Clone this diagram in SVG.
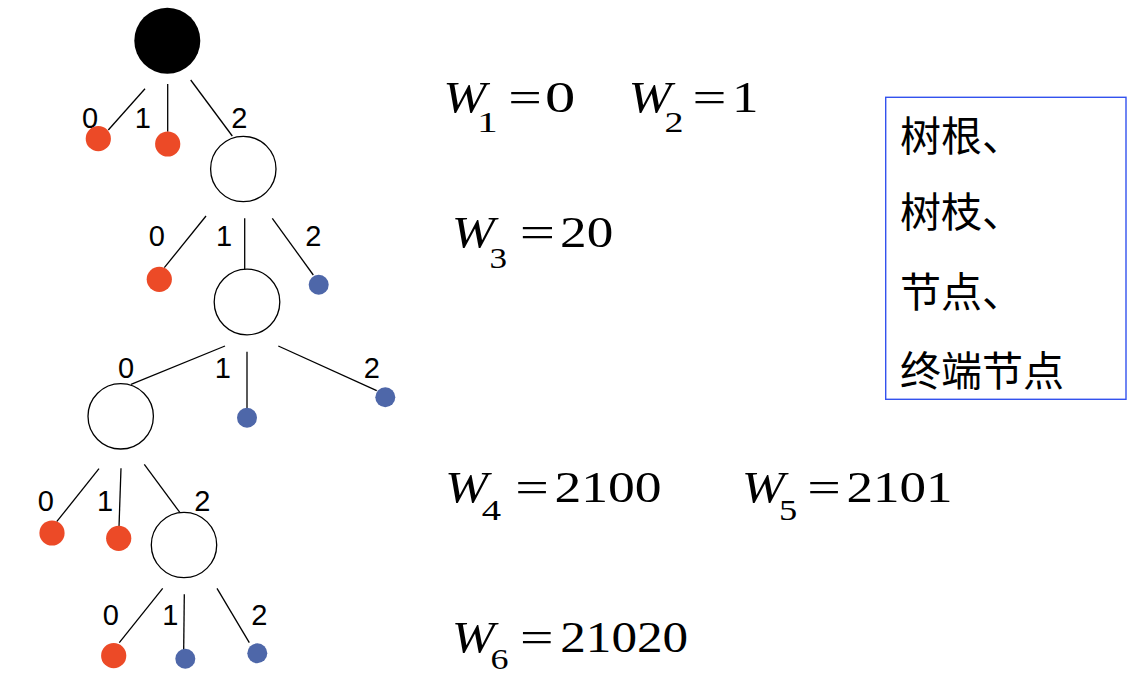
<svg xmlns="http://www.w3.org/2000/svg" width="1142" height="679" viewBox="0 0 1142 679">
<style>
.edge{stroke:#000;stroke-width:1.3;fill:none}
.open{fill:#fff;stroke:#000;stroke-width:1.3}
.red{fill:#ec4a27}
.blue{fill:#4e67a9}
.lbl{font-family:"Liberation Sans",Arial,sans-serif;font-size:29px;fill:#000;text-anchor:middle}
.m{font-family:"Liberation Serif","Times New Roman",serif;font-size:45px;fill:#000}
.mi{font-family:"Liberation Serif","Times New Roman",serif;font-size:45px;font-style:italic;fill:#000}
.s{font-family:"Liberation Serif","Times New Roman",serif;font-size:29px;fill:#000}
.cjk{font-family:"Noto Sans CJK SC",sans-serif;font-size:41px;fill:#000}
</style>
<rect width="1142" height="679" fill="#fff"/>
<g id="connectors">
<line class="edge" x1="145" y1="88.7" x2="108.3" y2="130"/>
<line class="edge" x1="167.7" y1="84" x2="167.7" y2="131.7"/>
<line class="edge" x1="190.7" y1="80" x2="232.3" y2="136"/>
<line class="edge" x1="206" y1="216" x2="164.3" y2="267.7"/>
<line class="edge" x1="244.7" y1="218.3" x2="244.7" y2="269.3"/>
<line class="edge" x1="272.3" y1="218.3" x2="313.3" y2="275"/>
<line class="edge" x1="225" y1="346" x2="131" y2="384.3"/>
<line class="edge" x1="247" y1="351.7" x2="247" y2="408.3"/>
<line class="edge" x1="278.3" y1="346" x2="376.7" y2="390.7"/>
<line class="edge" x1="99" y1="468.7" x2="56.7" y2="521.7"/>
<line class="edge" x1="121" y1="468.3" x2="119" y2="526.7"/>
<line class="edge" x1="144.3" y1="464.3" x2="180" y2="512.7"/>
<line class="edge" x1="162.7" y1="588.3" x2="119.3" y2="642.7"/>
<line class="edge" x1="184.3" y1="594.3" x2="183.7" y2="650"/>
<line class="edge" x1="217" y1="588.3" x2="249.3" y2="642.7"/>
</g>
<g id="edge-labels">
<text class="lbl" x="90" y="127.7">0</text>
<text class="lbl" x="142.7" y="127.7">1</text>
<text class="lbl" x="239.3" y="128">2</text>
<text class="lbl" x="156.7" y="246">0</text>
<text class="lbl" x="224" y="246">1</text>
<text class="lbl" x="313.3" y="246">2</text>
<text class="lbl" x="126" y="378.3">0</text>
<text class="lbl" x="222.7" y="378.3">1</text>
<text class="lbl" x="371.7" y="378.3">2</text>
<text class="lbl" x="45.7" y="510.7">0</text>
<text class="lbl" x="105" y="510.7">1</text>
<text class="lbl" x="202.3" y="510.7">2</text>
<text class="lbl" x="110.7" y="625">0</text>
<text class="lbl" x="170.3" y="625">1</text>
<text class="lbl" x="259.3" y="625">2</text>
</g>
<g id="root"><circle cx="167.3" cy="40.7" r="33" fill="#000"/></g>
<g id="leaf-0"><circle class="red" cx="98.3" cy="138.7" r="12.6"/></g>
<g id="leaf-1"><circle class="red" cx="167.7" cy="144" r="12.6"/></g>
<g id="node-2"><circle class="open" cx="243.3" cy="169" r="32.7"/></g>
<g id="leaf-20"><circle class="red" cx="159.3" cy="279.3" r="12.6"/></g>
<g id="leaf-22"><circle class="blue" cx="318.7" cy="284.7" r="10"/></g>
<g id="node-21"><circle class="open" cx="247" cy="302" r="32.8"/></g>
<g id="leaf-211"><circle class="blue" cx="247" cy="417.7" r="10"/></g>
<g id="leaf-212"><circle class="blue" cx="385.3" cy="397.3" r="10"/></g>
<g id="node-210"><circle class="open" cx="120.7" cy="416.3" r="32.7"/></g>
<g id="leaf-2100"><circle class="red" cx="52" cy="533" r="12.6"/></g>
<g id="leaf-2101"><circle class="red" cx="118.7" cy="538.3" r="12.6"/></g>
<g id="node-2102"><circle class="open" cx="184" cy="545" r="32.7"/></g>
<g id="leaf-21020"><circle class="red" cx="113.7" cy="655.7" r="12.6"/></g>
<g id="leaf-21021"><circle class="blue" cx="185.3" cy="658.7" r="10"/></g>
<g id="leaf-21022"><circle class="blue" cx="257.3" cy="653.3" r="10"/></g>
<g id="formulas">
<text class="mi" x="443.3" y="111.5" textLength="43" lengthAdjust="spacingAndGlyphs">W</text>
<text class="s" x="477" y="131.7" textLength="20.7" lengthAdjust="spacingAndGlyphs">1</text>
<text class="m" x="508.2" y="111.5" textLength="33.6" lengthAdjust="spacingAndGlyphs">=</text>
<text class="m" x="544.9" y="111.5" textLength="30.3" lengthAdjust="spacingAndGlyphs">0</text>
<text class="mi" x="628.5" y="111.5" textLength="43" lengthAdjust="spacingAndGlyphs">W</text>
<text class="s" x="664.5" y="131.7" textLength="19" lengthAdjust="spacingAndGlyphs">2</text>
<text class="m" x="692.5" y="111.5" textLength="34" lengthAdjust="spacingAndGlyphs">=</text>
<text class="m" x="732.1" y="111.5" textLength="26.5" lengthAdjust="spacingAndGlyphs">1</text>
<text class="mi" x="451.8" y="247" textLength="43" lengthAdjust="spacingAndGlyphs">W</text>
<text class="s" x="489.5" y="268.3" textLength="17.5" lengthAdjust="spacingAndGlyphs">3</text>
<text class="m" x="519.8" y="247" textLength="35.3" lengthAdjust="spacingAndGlyphs">=</text>
<text class="m" x="560.1" y="247" textLength="53.2" lengthAdjust="spacingAndGlyphs">20</text>
<text class="mi" x="445.1" y="502" textLength="43" lengthAdjust="spacingAndGlyphs">W</text>
<text class="s" x="481.8" y="520" textLength="19.3" lengthAdjust="spacingAndGlyphs">4</text>
<text class="m" x="515.2" y="502" textLength="33.6" lengthAdjust="spacingAndGlyphs">=</text>
<text class="m" x="554.4" y="502" textLength="107.2" lengthAdjust="spacingAndGlyphs">2100</text>
<text class="mi" x="741.8" y="502" textLength="43" lengthAdjust="spacingAndGlyphs">W</text>
<text class="s" x="779" y="520" textLength="18.2" lengthAdjust="spacingAndGlyphs">5</text>
<text class="m" x="807.2" y="502" textLength="33.6" lengthAdjust="spacingAndGlyphs">=</text>
<text class="m" x="846.4" y="502" textLength="106.2" lengthAdjust="spacingAndGlyphs">2101</text>
<text class="mi" x="451.8" y="652" textLength="43" lengthAdjust="spacingAndGlyphs">W</text>
<text class="s" x="490.5" y="669" textLength="18" lengthAdjust="spacingAndGlyphs">6</text>
<text class="m" x="519.9" y="652" textLength="33.6" lengthAdjust="spacingAndGlyphs">=</text>
<text class="m" x="560.2" y="652" textLength="128" lengthAdjust="spacingAndGlyphs">21020</text>
</g>
<g id="terms-box">
<rect x="885.7" y="97.3" width="240.3" height="302" fill="none" stroke="#3352ee" stroke-width="1.4"/>
<text class="cjk" x="900" y="150.5">树根、</text>
<text class="cjk" x="900" y="227">树枝、</text>
<text class="cjk" x="900" y="307">节点、</text>
<text class="cjk" x="900" y="385.5">终端节点</text>
</g>
</svg>
